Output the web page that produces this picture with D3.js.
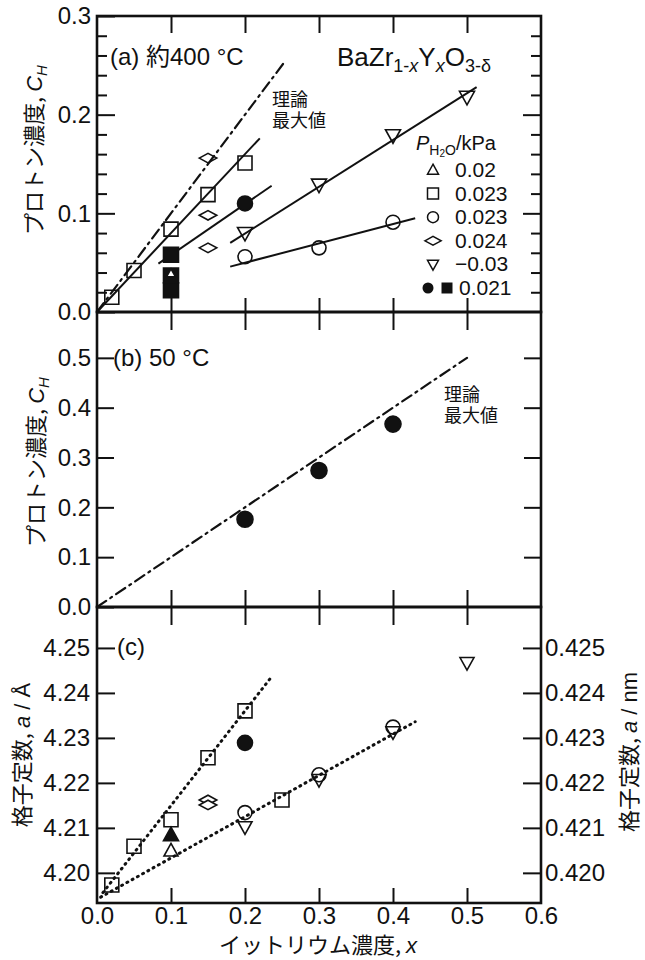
<!DOCTYPE html>
<html>
<head>
<meta charset="utf-8">
<script src="https://cdn.jsdelivr.net/npm/d3@7"></script>
<style>
  body { margin: 0; background: #fff; }
  svg text { font-family: "Liberation Sans", Arial, "Noto Sans CJK JP", sans-serif; fill: #111; }
  .jp { font-family: "Noto Sans CJK JP", "Liberation Sans", sans-serif; }
</style>
</head>
<body>
<div id="chart"></div>
<script>
// ---------- data ----------
// shared x axis (yttrium content)
const xTicks = [0.0, 0.1, 0.2, 0.3, 0.4, 0.5, 0.6];

// (a) proton concentration at ~400 C, pairs of [x, C_H]
const aSquares = [[0.02, 0.015], [0.05, 0.042], [0.10, 0.084], [0.15, 0.119], [0.20, 0.151]];
const aDiamonds = [[0.15, 0.156], [0.15, 0.098], [0.15, 0.065]];
const aCircles = [[0.20, 0.056], [0.30, 0.065], [0.40, 0.091]];
const aDownTri = [[0.20, 0.080], [0.30, 0.129], [0.40, 0.179], [0.50, 0.218]];
const aFilledCircle = [[0.20, 0.110]];
const aFilledSquares = [[0.10, 0.058], [0.10, 0.037], [0.10, 0.022]];
const aUpTri = [[0.10, 0.039]];
const aTheory = [[0.0, 0.0], [0.252, 0.252]];
const aFitSquares = [[0.0, 0.0], [0.22, 0.176]];
const aFitFilled = [[0.083, 0.049], [0.236, 0.128]];
const aFitDownTri = [[0.18, 0.070], [0.513, 0.228]];
const aFitCircles = [[0.18, 0.046], [0.43, 0.095]];
const aTicks = [0.0, 0.1, 0.2, 0.3];

// (b) proton concentration at 50 C
const bCircles = [[0.20, 0.176], [0.30, 0.274], [0.40, 0.367]];
const bTheory = [[0.0, 0.0], [0.50, 0.50]];
const bTicks = [0.0, 0.1, 0.2, 0.3, 0.4, 0.5];

// (c) lattice constant, angstrom
const cSquares = [[0.02, 4.1973], [0.05, 4.2059], [0.10, 4.2118], [0.15, 4.2256], [0.20, 4.2360], [0.25, 4.2162]];
const cCircles = [[0.20, 4.2134], [0.30, 4.2218], [0.40, 4.2324]];
const cDownTri = [[0.20, 4.2102], [0.30, 4.2207], [0.40, 4.2313], [0.50, 4.2467]];
const cDiamonds = [[0.15, 4.2162], [0.15, 4.2151]];
const cUpTri = [[0.10, 4.2049]];
const cFilledTri = [[0.10, 4.2084]];
const cFilledCircle = [[0.20, 4.2289]];
const cFitUpper = [[0.008, 4.1956], [0.236, 4.2436]];
const cFitLower = [[0.005, 4.1946], [0.43, 4.2336]];
const cTicks = [4.20, 4.21, 4.22, 4.23, 4.24, 4.25];
const cTicksNm = [0.420, 0.421, 0.422, 0.423, 0.424, 0.425];

// legend rows
const legendShapes = ["up", "square", "circle", "diamond", "down", "filled"];
const legendLabels = ["0.02", "0.023", "0.023", "0.024", "\u22120.03", "0.021"];

// ---------- layout ----------
const width = 645, height = 960;
const frame = {left: 97, right: 541};
const panelA = {top: 16, bottom: 312};
const panelB = {top: 312, bottom: 607};
const panelC = {top: 607, bottom: 903};

const svg = d3.select("#chart")
              .append("svg")
              .attr("width", width)
              .attr("height", height);

// scales
const xScale = d3.scaleLinear().domain([0, 0.6]).range([frame.left, frame.right]);
const yA = d3.scaleLinear().domain([0, 0.3]).range([panelA.bottom, panelA.top]);
const yB = d3.scaleLinear().domain([0, 0.592]).range([panelB.bottom, panelB.top]);
const yC = d3.scaleLinear().domain([4.1933, 4.2591]).range([panelC.bottom, panelC.top]);
const yCnm = d3.scaleLinear().domain([0.41933, 0.42591]).range([panelC.bottom, panelC.top]);

// marker path, s is half size
function shapePath(type, s) {
    if (type == "square") return `M${-s},${-s}H${s}V${s}H${-s}Z`;
    if (type == "diamond") return `M${-s * 1.25},0L0,${-s * 0.68}L${s * 1.25},0L0,${s * 0.68}Z`;
    if (type == "up") return `M0,${-s * 1.05}L${s},${s * 0.75}L${-s},${s * 0.75}Z`;
    if (type == "down") return `M0,${s * 1.05}L${s},${-s * 0.75}L${-s},${-s * 0.75}Z`;
    const p = d3.path();
    p.arc(0, 0, s, 0, 2 * Math.PI);
    return p.toString();
}

// draw markers for a series
function drawMarkers(data, yScale, type, size, fill) {
    svg.append("g")
       .selectAll("path")
       .data(data)
       .enter()
       .append("path")
       .attr("d", shapePath(type, size))
       .attr("transform", d => "translate(" + xScale(d[0]) + "," + yScale(d[1]) + ")")
       .attr("fill", fill)
       .attr("stroke", "#111")
       .attr("stroke-width", 1.6);
}

// draw a fit or theory line
function drawLine(data, yScale, dash, w) {
    const line = d3.line().x(d => xScale(d[0])).y(d => yScale(d[1]));
    svg.append("path")
       .datum(data)
       .attr("d", line)
       .attr("fill", "none")
       .attr("stroke", "#111")
       .attr("stroke-width", w)
       .attr("stroke-dasharray", dash)
       .attr("stroke-linecap", dash == "none" ? "butt" : "round");
}

// strip domain path of an axis group and style ticks
function styleAxis(g, fontSize) {
    g.select(".domain").remove();
    g.selectAll(".tick line").attr("stroke", "#111").attr("stroke-width", 2);
    g.selectAll(".tick text").attr("font-size", fontSize).attr("fill", "#111")
     .style("font-family", "'Liberation Sans', Arial, sans-serif");
}

const fmt1 = d3.format(".1f");
const fmt2 = d3.format(".2f");
const fmt3 = d3.format(".3f");
const tickFont = 24;

// ---------- x ticks ----------
// ticks hanging from the top of panel (a)
svg.append("g")
   .attr("transform", "translate(0," + panelA.top + ")")
   .call(d3.axisTop(xScale).tickValues(xTicks.slice(1, 6)).tickSize(-17).tickFormat(""))
   .call(g => styleAxis(g, tickFont));

// ticks crossing the panel borders
svg.append("g")
   .attr("transform", "translate(0," + (panelA.bottom - 14) + ")")
   .call(d3.axisBottom(xScale).tickValues(xTicks.slice(1, 6)).tickSize(32).tickFormat(""))
   .call(g => styleAxis(g, tickFont));
svg.append("g")
   .attr("transform", "translate(0," + (panelB.bottom - 17) + ")")
   .call(d3.axisBottom(xScale).tickValues(xTicks.slice(1, 6)).tickSize(35).tickFormat(""))
   .call(g => styleAxis(g, tickFont));

// bottom axis with labels
svg.append("g")
   .attr("transform", "translate(0," + panelC.bottom + ")")
   .call(d3.axisBottom(xScale).tickValues(xTicks).tickSize(-15).tickPadding(4).tickFormat(fmt1))
   .call(g => styleAxis(g, tickFont))
   .call(g => g.selectAll(".tick line").filter(d => d == 0 || d == 0.6).remove());

// ---------- y ticks ----------
// panel (a)
svg.append("g")
   .attr("transform", "translate(" + frame.left + ",0)")
   .call(d3.axisLeft(yA).tickValues(aTicks).tickSize(-18).tickPadding(6).tickFormat(fmt1))
   .call(g => styleAxis(g, tickFont));
const aMinor = d3.range(1, 15).map(i => i * 0.02).filter(v => Math.abs(v - 0.1) > 1e-6 && Math.abs(v - 0.2) > 1e-6);
svg.append("g")
   .attr("transform", "translate(" + frame.left + ",0)")
   .call(d3.axisLeft(yA).tickValues(aMinor).tickSize(-10).tickFormat(""))
   .call(g => styleAxis(g, tickFont));
svg.append("g")
   .attr("transform", "translate(" + frame.right + ",0)")
   .call(d3.axisRight(yA).tickValues([0.1, 0.2]).tickSize(-18).tickFormat(""))
   .call(g => styleAxis(g, tickFont));
svg.append("g")
   .attr("transform", "translate(" + frame.right + ",0)")
   .call(d3.axisRight(yA).tickValues(aMinor).tickSize(-10).tickFormat(""))
   .call(g => styleAxis(g, tickFont));

// panel (b)
svg.append("g")
   .attr("transform", "translate(" + frame.left + ",0)")
   .call(d3.axisLeft(yB).tickValues(bTicks).tickSize(-17).tickPadding(6).tickFormat(fmt1))
   .call(g => styleAxis(g, tickFont));
svg.append("g")
   .attr("transform", "translate(" + frame.right + ",0)")
   .call(d3.axisRight(yB).tickValues(bTicks.slice(1)).tickSize(-17).tickFormat(""))
   .call(g => styleAxis(g, tickFont));

// panel (c)
svg.append("g")
   .attr("transform", "translate(" + frame.left + ",0)")
   .call(d3.axisLeft(yC).tickValues(cTicks).tickSize(-18).tickPadding(7).tickFormat(fmt2))
   .call(g => styleAxis(g, tickFont));
svg.append("g")
   .attr("transform", "translate(" + frame.right + ",0)")
   .call(d3.axisRight(yCnm).tickValues(cTicksNm).tickSize(-18).tickPadding(4).tickFormat(fmt3))
   .call(g => styleAxis(g, tickFont));

// ---------- frames ----------
[panelA, panelB, panelC].forEach(p => {
    svg.append("rect")
       .attr("x", frame.left)
       .attr("y", p.top)
       .attr("width", frame.right - frame.left)
       .attr("height", p.bottom - p.top)
       .attr("fill", "none")
       .attr("stroke", "#111")
       .attr("stroke-width", 2.6);
});

// ---------- panel (a) ----------
drawLine(aTheory, yA, "11,5,2,5", 2.2);
drawLine(aFitSquares, yA, "none", 2);
drawLine(aFitFilled, yA, "none", 2);
drawLine(aFitDownTri, yA, "none", 2);
drawLine(aFitCircles, yA, "none", 2);

drawMarkers(aSquares, yA, "square", 7, "none");
drawMarkers(aDiamonds, yA, "diamond", 7, "none");
drawMarkers(aCircles, yA, "circle", 7, "none");
drawMarkers(aDownTri, yA, "down", 7.5, "none");
drawMarkers(aFilledCircle, yA, "circle", 7.5, "#111");
drawMarkers(aFilledSquares, yA, "square", 7.5, "#111");
drawMarkers(aUpTri, yA, "up", 4.5, "#fff");

// ---------- panel (b) ----------
drawLine(bTheory, yB, "11,5,2,5", 2.2);
drawMarkers(bCircles, yB, "circle", 8, "#111");

// ---------- panel (c) ----------
drawLine(cFitUpper, yC, "1,5", 3);
drawLine(cFitLower, yC, "1,5", 3);
drawMarkers(cSquares, yC, "square", 7, "none");
drawMarkers(cCircles, yC, "circle", 7, "none");
drawMarkers(cDownTri, yC, "down", 7, "none");
drawMarkers(cDiamonds, yC, "diamond", 7, "#fff");
drawMarkers(cUpTri, yC, "up", 7, "none");
drawMarkers(cFilledTri, yC, "up", 7.5, "#111");
drawMarkers(cFilledCircle, yC, "circle", 7.5, "#111");

// ---------- texts ----------
// panel labels
svg.append("text")
   .attr("x", 110).attr("y", 65)
   .attr("font-size", 24)
   .text("(a) 約400 °C");
svg.append("text")
   .attr("x", 113).attr("y", 366)
   .attr("font-size", 24)
   .text("(b) 50 °C");
svg.append("text")
   .attr("x", 117).attr("y", 655)
   .attr("font-size", 24)
   .text("(c)");

// formula title
const title = svg.append("text")
   .attr("x", 337).attr("y", 66)
   .attr("font-size", 26);
title.append("tspan").text("BaZr");
title.append("tspan").attr("font-size", 18).attr("dy", 6).text("1-");
title.append("tspan").attr("font-size", 18).attr("font-style", "italic").text("x");
title.append("tspan").attr("dy", -6).text("Y");
title.append("tspan").attr("font-size", 18).attr("dy", 6).attr("font-style", "italic").text("x");
title.append("tspan").attr("dy", -6).text("O");
title.append("tspan").attr("font-size", 18).attr("dy", 6).text("3-δ");

// theoretical maximum notes, one text per line
function theoryNote(x, y) {
    svg.append("text")
       .attr("x", x).attr("y", y)
       .attr("font-size", 18)
       .text("理論");
    svg.append("text")
       .attr("x", x).attr("y", y + 21)
       .attr("font-size", 18)
       .text("最大値");
}
theoryNote(272, 106);
theoryNote(444, 401);

// legend
const legend = svg.append("g");
const lHead = legend.append("text")
                    .attr("x", 416).attr("y", 150)
                    .attr("font-size", 20);
lHead.append("tspan").attr("font-style", "italic").text("P");
lHead.append("tspan").attr("font-size", 14).attr("dy", 5).text("H");
lHead.append("tspan").attr("font-size", 10).attr("dy", 2).text("2");
lHead.append("tspan").attr("font-size", 14).attr("dy", -2).text("O");
lHead.append("tspan").attr("dy", -5).text("/kPa");

legendShapes.forEach((shape, i) => {
    const cy = 170 + i * 23.6;
    if (shape == "filled") {
        legend.append("path")
              .attr("d", shapePath("circle", 5.5))
              .attr("transform", "translate(428," + cy + ")")
              .attr("fill", "#111");
        legend.append("path")
              .attr("d", shapePath("square", 5.5))
              .attr("transform", "translate(447," + cy + ")")
              .attr("fill", "#111");
    }
    else {
        legend.append("path")
              .attr("d", shapePath(shape, shape == "diamond" ? 6.5 : 5.5))
              .attr("transform", "translate(433," + cy + ")")
              .attr("fill", "none")
              .attr("stroke", "#111")
              .attr("stroke-width", 1.5);
    }
    legend.append("text")
          .attr("x", shape == "filled" ? 459 : 455)
          .attr("y", cy + 7)
          .attr("font-size", 21)
          .text(legendLabels[i]);
});

// axis titles
function yTitle(x, y, main, italic, tail) {
    const t = svg.append("text")
                 .attr("transform", "translate(" + x + "," + y + ") rotate(-90)")
                 .attr("text-anchor", "middle")
                 .attr("font-size", 22);
    t.append("tspan").attr("class", "jp").text(main);
    t.append("tspan").attr("font-style", "italic").text(italic);
    if (tail) t.append("tspan").text(tail);
    return t;
}
const yaT = yTitle(42, 150, "プロトン濃度, ", "C", null);
yaT.append("tspan").attr("font-style", "italic").attr("font-size", 15).attr("dy", 5).text("H");
const ybT = yTitle(44, 462, "プロトン濃度, ", "C", null);
ybT.append("tspan").attr("font-style", "italic").attr("font-size", 15).attr("dy", 5).text("H");
yTitle(30, 755, "格子定数, ", "a", " / Å");
yTitle(637, 752, "格子定数, ", "a", " / nm");

const xT = svg.append("text")
              .attr("x", 318).attr("y", 953)
              .attr("text-anchor", "middle")
              .attr("font-size", 22);
xT.append("tspan").attr("class", "jp").text("イットリウム濃度, ");
xT.append("tspan").attr("font-style", "italic").text("x");
</script>
</body>
</html>
